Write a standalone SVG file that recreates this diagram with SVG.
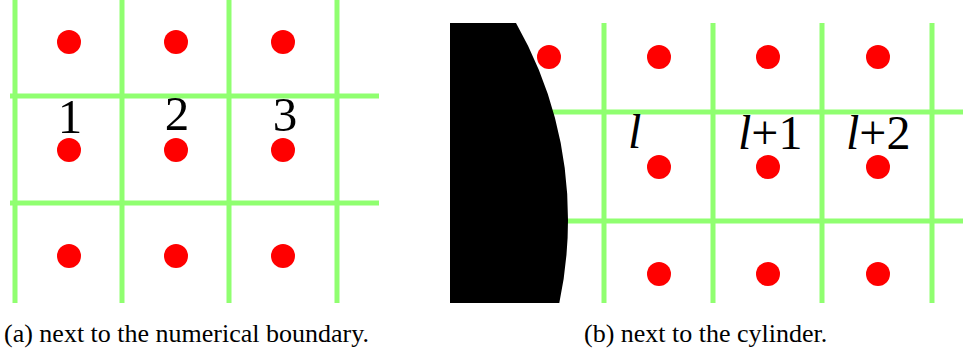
<svg xmlns="http://www.w3.org/2000/svg" width="963" height="353" viewBox="0 0 963 353">
<style>
.g{stroke:#90FF70;stroke-width:5;fill:none}
.d{fill:#FF0000}
</style>
<rect width="963" height="353" fill="#fff"/>
<g id="panel-a">
<g id="grid-a" class="g">
<line x1="15" y1="0" x2="15" y2="303"/>
<line x1="122" y1="0" x2="122" y2="303"/>
<line x1="229" y1="0" x2="229" y2="303"/>
<line x1="337" y1="0" x2="337" y2="303"/>
<line x1="10" y1="96" x2="379" y2="96"/>
<line x1="10" y1="203" x2="379" y2="203"/>
</g>
<g id="dots-a" class="d">
<circle cx="69" cy="42" r="12"/><circle cx="176" cy="42" r="12"/><circle cx="283" cy="42" r="12"/>
<circle cx="69" cy="150" r="12"/><circle cx="176" cy="150" r="12"/><circle cx="283" cy="150" r="12"/>
<circle cx="69" cy="256" r="12"/><circle cx="176" cy="256" r="12"/><circle cx="283" cy="256" r="12"/>
</g>
<text x="70" y="133" font-size="49" font-family="Liberation Serif" text-anchor="middle">1</text>
<text x="177" y="130" font-size="49" font-family="Liberation Serif" text-anchor="middle">2</text>
<text x="285" y="131" font-size="49" font-family="Liberation Serif" text-anchor="middle">3</text>
</g>
<g id="panel-b">
<g id="grid-b" class="g">
<line x1="604" y1="23" x2="604" y2="303"/>
<line x1="713" y1="23" x2="713" y2="303"/>
<line x1="822" y1="23" x2="822" y2="303"/>
<line x1="932" y1="23" x2="932" y2="303"/>
<line x1="540" y1="112" x2="963" y2="112"/>
<line x1="540" y1="221" x2="963" y2="221"/>
</g>
<path id="cylinder" d="M450,23 L516,23 A399,399 0 0,1 568,220 A399,399 0 0,1 559.3,303 L450,303 Z" fill="#000"/>
<g id="dots-b" class="d">
<circle cx="549" cy="57" r="12"/><circle cx="659" cy="57" r="12"/><circle cx="768" cy="57" r="12"/><circle cx="878" cy="57" r="12"/>
<circle cx="659" cy="167" r="12"/><circle cx="768" cy="167" r="12"/><circle cx="878" cy="167" r="12"/>
<circle cx="659" cy="274" r="12"/><circle cx="768" cy="274" r="12"/><circle cx="878" cy="274" r="12"/>
</g>
<text x="628" y="148" font-size="48" font-family="Liberation Serif" font-style="italic">l</text>
<text x="738" y="149" font-size="48" font-family="Liberation Serif"><tspan font-style="italic">l</tspan>+1</text>
<text x="846" y="149" font-size="48" font-family="Liberation Serif"><tspan font-style="italic">l</tspan>+2</text>
</g>
<g id="captions">
<text x="4" y="342" font-size="26" font-family="Liberation Serif">(a) next to the numerical boundary.</text>
<text x="584" y="342" font-size="26" font-family="Liberation Serif">(b) next to the cylinder.</text>
</g>
</svg>
